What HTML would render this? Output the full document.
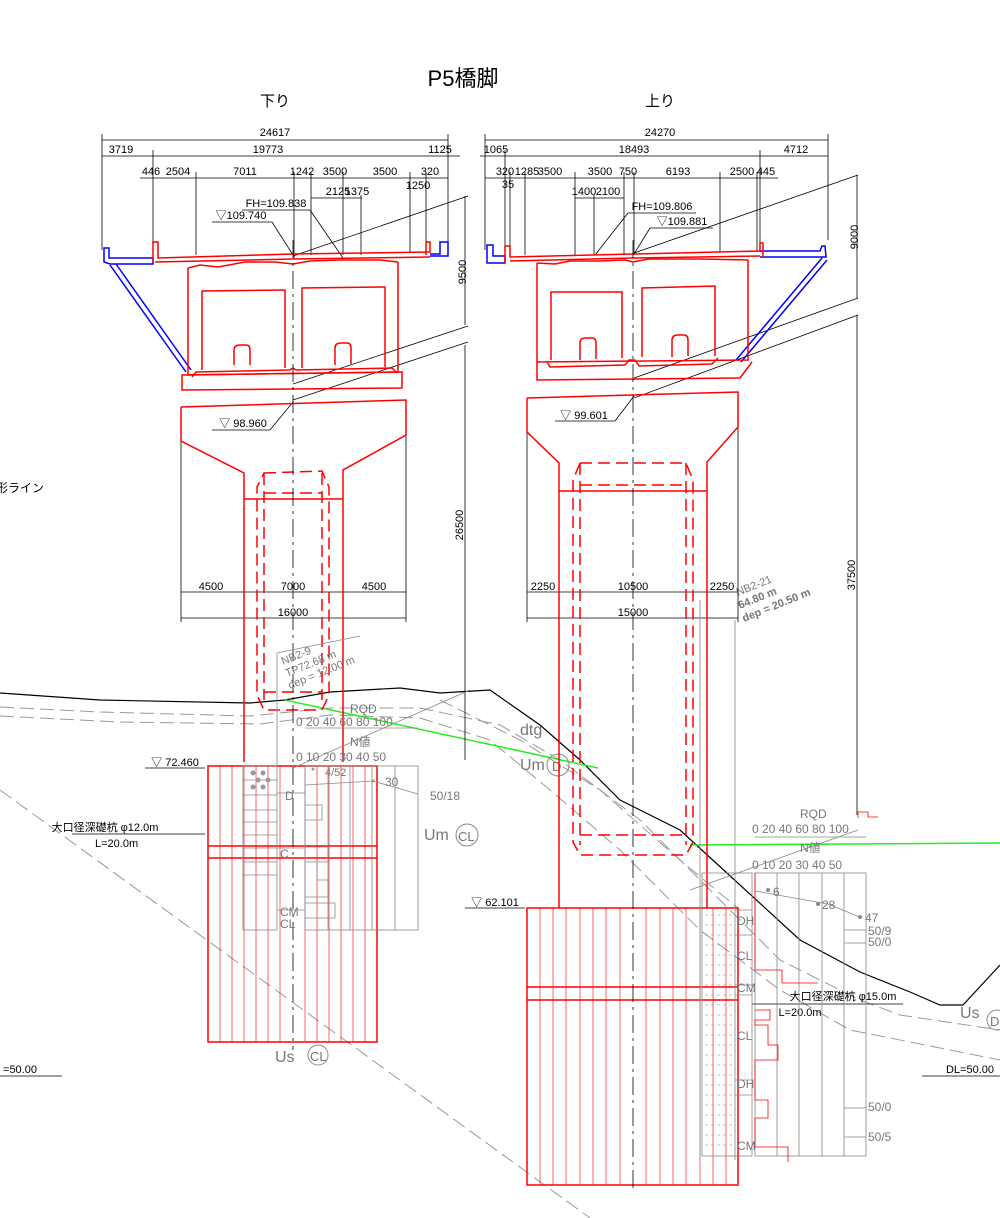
<!DOCTYPE html>
<html><head><meta charset="utf-8"><style>
html,body{margin:0;padding:0;background:#fff}
svg{display:block}
text{font-family:"Liberation Sans","Noto Sans CJK JP",sans-serif;fill:#000}
.g text{fill:#777}
</style></head><body>
<svg width="1000" height="1218" viewBox="0 0 1000 1218" xmlns="http://www.w3.org/2000/svg">
<!-- Title -->
<text x="463" y="86" font-size="22" text-anchor="middle">P5橋脚</text>
<text x="275" y="106" font-size="15" text-anchor="middle">下り</text>
<text x="660" y="106" font-size="15" text-anchor="middle">上り</text>
<text x="-4" y="492" font-size="12">形ライン</text>

<!-- Ground layers (gray dashed) -->
<g fill="none" stroke="#999" stroke-width="1" stroke-dasharray="14,6">
<path d="M0,707 L100,712 L250,716 L330,708 L420,708 L500,725 L560,760 L640,820 L720,900 L780,960 L860,1000 L900,1015 L1000,1030"/>
<path d="M0,716 L120,722 L260,724 L330,715 L420,718 L490,740 L550,790 L620,850 L700,930 L780,990 L850,1030 L1000,1060"/>
<path d="M0,790 L590,1218"/>
<path d="M440,700 L520,740 L600,790 L680,860 L740,910"/>
</g>
<!-- ground line black -->
<path d="M0,693 L100,700 L250,703 L285,700 L330,692 L400,688 L440,693 L490,690 L540,725 L580,760 L620,800 L680,830 L740,885 L800,940 L860,972 L910,992 L940,1005 L963,1005 L1000,965" fill="none" stroke="#000" stroke-width="1.2"/>
<!-- green lines -->
<line x1="285" y1="700" x2="598" y2="768" stroke="#2e2" stroke-width="1.5"/>
<line x1="690" y1="845" x2="1000" y2="843" stroke="#2e2" stroke-width="1.5"/>

<!-- ===== LEFT PIER ===== -->
<g stroke="#000" stroke-width="0.8" fill="none">
<line x1="102" y1="140" x2="448" y2="140"/>
<line x1="102" y1="156" x2="460" y2="156"/>
<line x1="140" y1="178" x2="448" y2="178"/>
<line x1="102" y1="134" x2="102" y2="250"/>
<line x1="448" y1="134" x2="448" y2="250"/>
<line x1="153" y1="150" x2="153" y2="250"/>
<line x1="196" y1="172" x2="196" y2="255"/>
<line x1="294" y1="172" x2="294" y2="258"/>
<line x1="311" y1="172" x2="311" y2="255"/>
<line x1="343" y1="172" x2="343" y2="255"/>
<line x1="361" y1="195" x2="361" y2="255"/>
<line x1="410" y1="172" x2="410" y2="253"/>
<line x1="426" y1="172" x2="426" y2="250"/>
<line x1="311" y1="198" x2="362" y2="198"/>
<line x1="242" y1="210" x2="310" y2="210"/>
<line x1="212" y1="222" x2="272" y2="222"/>
<line x1="272" y1="222" x2="293" y2="255"/>
<line x1="310" y1="210" x2="343" y2="258"/>
<line x1="293" y1="256" x2="468" y2="196"/>
<line x1="293" y1="384" x2="468" y2="326"/>
<line x1="293" y1="400" x2="468" y2="342"/>
<line x1="465" y1="196" x2="465" y2="325"/>
<line x1="465" y1="345" x2="465" y2="760"/>
<line x1="212" y1="430" x2="270" y2="430"/>
<line x1="270" y1="430" x2="293" y2="402"/>
<line x1="181" y1="440" x2="181" y2="622"/>
<line x1="406" y1="435" x2="406" y2="622"/>
<line x1="181" y1="592" x2="406" y2="592"/>
<line x1="181" y1="618" x2="406" y2="618"/>
<line x1="145" y1="768" x2="205" y2="768"/>
<line x1="72" y1="834" x2="205" y2="834"/>
<line x1="0" y1="1076" x2="62" y2="1076"/>
</g>
<g font-size="11" text-anchor="middle">
<text x="275" y="136">24617</text>
<text x="121" y="153">3719</text>
<text x="268" y="153">19773</text>
<text x="440" y="153">1125</text>
<text x="151" y="175">446</text>
<text x="178" y="175">2504</text>
<text x="245" y="175">7011</text>
<text x="302" y="175">1242</text>
<text x="335" y="175">3500</text>
<text x="385" y="175">3500</text>
<text x="430" y="175">320</text>
<text x="418" y="189">1250</text>
<text x="338" y="195">2125</text>
<text x="357" y="195">1375</text>
<text x="276" y="207">FH=109.838</text>
<text x="241" y="219">▽109.740</text>
<text x="243" y="427">▽ 98.960</text>
<text x="211" y="590">4500</text>
<text x="293" y="590">7000</text>
<text x="374" y="590">4500</text>
<text x="293" y="616">16000</text>
<text x="175" y="766">▽ 72.460</text>
<text x="105" y="831">大口径深礎杭 φ12.0m</text>
<text x="95" y="847" text-anchor="start" x="72">L=20.0m</text>
<text x="20" y="1073">=50.00</text>
</g>
<text x="466" y="272" font-size="11" transform="rotate(-90 466 272)" text-anchor="middle">9500</text>
<text x="463" y="525" font-size="11" transform="rotate(-90 463 525)" text-anchor="middle">26500</text>

<!-- deck left -->
<g fill="none" stroke="#00f" stroke-width="1.5">
<path d="M104,248 L109,248 L109,258 L153,258 L153,264 L110,264 L104,262 Z"/>
<path d="M110,265 L186,372 M116,264 L191,370"/>
<path d="M430,254 L440,254 L440,242 L448,242 L448,256 L430,256"/>
</g>
<g fill="none" stroke="#f00" stroke-width="1.5">
<path d="M153,262 L153,242 L158,242 L158,258 L293,254 L430,252 L430,242 L426,242 L426,255"/>
<path d="M155,262 L293,259 L430,257"/>
<path d="M188,268 L188,375 L398,372 L398,262"/>
<path d="M188,268 L200,265 L218,267 L245,262 L275,262 L293,264 L310,261 L340,260 L380,260 L398,262"/>
<path d="M182,375 L182,390 L402,388 L402,372 Z"/>
<path d="M202,370 L202,291 L285,290 L285,368 M302,368 L302,288 L385,287 L385,367"/>
<path d="M234,365 L234,350 Q234,345 240,345 L246,345 Q250,345 250,350 L250,365 M335,365 L335,348 Q335,343 341,343 L347,343 Q351,343 351,348 L351,364"/>
<path d="M192,377 L196,372 L290,370 L293,368 L296,370 L392,368 L397,373"/>
<path d="M181,407 L406,400 L406,435 L343,470 L343,762 M181,407 L181,441 L244,473 L244,762 M244,499 L343,499"/>
<path d="M208,766 L377,766 L377,1042 L208,1042 Z M208,846 L377,846 M208,858 L377,858"/>
</g>
<g stroke="#f00" stroke-width="0.6" fill="none">
<path d="M220,766V1042 M232,766V1042 M244,766V1042 M256,766V1042 M268,766V1042 M280,766V1042 M305,766V1042 M317,766V1042 M329,766V1042 M341,766V1042 M353,766V1042 M365,766V1042"/>
</g>
<g fill="none" stroke="#f00" stroke-width="1.5" stroke-dasharray="12,6">
<path d="M264,473 L322,471 L329,487 L329,695 L322,710 L264,710 L257,695 L257,487 Z"/>
<path d="M264,473 L264,700 M322,473 L322,700 M264,493 L322,493 M264,692 L322,692"/>
</g>
<line x1="293" y1="240" x2="293" y2="1050" stroke="#000" stroke-width="0.8" stroke-dasharray="18,5,3,5"/>

<!-- left borehole -->
<g class="g" stroke="#888" stroke-width="0.8" fill="none">
<path d="M277,653 L277,766 M277,653 L360,636"/>
<rect x="243" y="766" width="34" height="164"/>
<rect x="305" y="766" width="113" height="164"/>
<path d="M328,766V930 M350,766V930 M372,766V930 M395,766V930"/>
<path d="M305,728H418 M305,785L373,781 L418,794"/>
<path d="M305,805H322V820H305 M305,847H328V862H305 M317,862V880H328V897H305 M305,903H335V918H305"/>
<path d="M277,793H305 M277,848H305 M277,910H305"/>
<path d="M243,780H277 M243,795H277 M243,810H277 M243,822H277 M243,835H277 M243,848H277 M243,862H277 M243,875H277"/>
<path d="M293,768 L470,690"/>
</g>
<g class="g" font-size="12">
<text x="350" y="713">RQD</text>
<text x="296" y="726">0 20 40 60 80 100</text>
<text x="350" y="746">N値</text>
<text x="296" y="761">0 10 20 30 40 50</text>
<text x="325" y="776" font-size="11">4/52</text>
<text x="385" y="786">30</text>
<text x="430" y="800">50/18</text>
<text x="285" y="800">D</text>
<text x="280" y="858">C</text>
<text x="280" y="916">CM</text>
<text x="280" y="928">CL</text>
<text x="424" y="840" font-size="16">Um</text>
<circle cx="467" cy="835" r="11" fill="none" stroke="#888"/>
<text x="458" y="841" font-size="13">CL</text>
<text x="275" y="1062" font-size="16">Us</text>
<circle cx="318" cy="1055" r="10" fill="none" stroke="#888"/>
<text x="310" y="1061" font-size="13">CL</text>
<text x="520" y="735" font-size="16">dtg</text>
<text x="520" y="770" font-size="16">Um</text>
<circle cx="558" cy="765" r="11" fill="none" stroke="#888"/>
<text x="552" y="771" font-size="13">D</text>
<text x="283" y="665" font-size="11" transform="rotate(-22 283 665)">NB2-9</text>
<text x="287" y="677" font-size="11" transform="rotate(-22 287 677)">TP72.68 m</text>
<text x="290" y="689" font-size="11" transform="rotate(-22 290 689)">dep = 12.00 m</text>
<text x="738" y="596" font-size="11" transform="rotate(-22 738 596)">NB2-21</text>
<text x="740" y="609" font-size="11" font-weight="bold" transform="rotate(-22 740 609)">64.80 m</text>
<text x="744" y="622" font-size="11" font-weight="bold" transform="rotate(-22 744 622)">dep = 20.50 m</text>
</g>
<g fill="#999">
<circle cx="253" cy="773" r="2.5"/><circle cx="263" cy="773" r="2.5"/><circle cx="258" cy="780" r="2.5"/><circle cx="268" cy="780" r="2.5"/><circle cx="253" cy="787" r="2.5"/><circle cx="263" cy="787" r="2.5"/>
<circle cx="313" cy="769" r="1.5"/><circle cx="373" cy="781" r="1.5"/>
</g>

<!-- ===== RIGHT PIER ===== -->
<g stroke="#000" stroke-width="0.8" fill="none">
<line x1="485" y1="140" x2="828" y2="140"/>
<line x1="480" y1="156" x2="828" y2="156"/>
<line x1="485" y1="178" x2="778" y2="178"/>
<line x1="485" y1="134" x2="485" y2="250"/>
<line x1="828" y1="134" x2="828" y2="240"/>
<line x1="505" y1="150" x2="505" y2="250"/>
<line x1="510" y1="172" x2="510" y2="255"/>
<line x1="525" y1="172" x2="525" y2="255"/>
<line x1="575" y1="172" x2="575" y2="255"/>
<line x1="594" y1="195" x2="594" y2="255"/>
<line x1="624" y1="172" x2="624" y2="255"/>
<line x1="634" y1="172" x2="634" y2="255"/>
<line x1="720" y1="172" x2="720" y2="252"/>
<line x1="757" y1="172" x2="757" y2="252"/>
<line x1="760" y1="150" x2="760" y2="252"/>
<line x1="575" y1="198" x2="624" y2="198"/>
<line x1="628" y1="213" x2="696" y2="213"/>
<line x1="650" y1="228" x2="713" y2="228"/>
<line x1="628" y1="213" x2="595" y2="255"/>
<line x1="650" y1="228" x2="634" y2="254"/>
<line x1="634" y1="253" x2="858" y2="175"/>
<line x1="634" y1="378" x2="858" y2="298"/>
<line x1="634" y1="398" x2="858" y2="315"/>
<line x1="857" y1="175" x2="857" y2="298"/>
<line x1="857" y1="315" x2="857" y2="815"/>
<line x1="555" y1="421" x2="615" y2="421"/>
<line x1="615" y1="421" x2="634" y2="396"/>
<line x1="527" y1="432" x2="527" y2="622"/>
<line x1="738" y1="427" x2="738" y2="622"/>
<line x1="527" y1="592" x2="738" y2="592"/>
<line x1="527" y1="618" x2="738" y2="618"/>
<line x1="465" y1="908" x2="525" y2="908"/>
<line x1="752" y1="1004" x2="903" y2="1004"/>
<line x1="922" y1="1076" x2="1000" y2="1076"/>
</g>
<g font-size="11" text-anchor="middle">
<text x="660" y="136">24270</text>
<text x="496" y="153">1065</text>
<text x="634" y="153">18493</text>
<text x="796" y="153">4712</text>
<text x="505" y="175">320</text>
<text x="527" y="175">1285</text>
<text x="550" y="175">3500</text>
<text x="600" y="175">3500</text>
<text x="628" y="175">750</text>
<text x="678" y="175">6193</text>
<text x="742" y="175">2500</text>
<text x="766" y="175">445</text>
<text x="508" y="188">35</text>
<text x="584" y="195">1400</text>
<text x="608" y="195">2100</text>
<text x="662" y="210">FH=109.806</text>
<text x="682" y="225">▽109.881</text>
<text x="584" y="419">▽ 99.601</text>
<text x="543" y="590">2250</text>
<text x="633" y="590">10500</text>
<text x="722" y="590">2250</text>
<text x="633" y="616">15000</text>
<text x="495" y="906">▽ 62.101</text>
<text x="843" y="1000">大口径深礎杭 φ15.0m</text>
<text x="800" y="1016">L=20.0m</text>
<text x="970" y="1073">DL=50.00</text>
</g>
<text x="858" y="237" font-size="11" transform="rotate(-90 858 237)" text-anchor="middle">9000</text>
<text x="855" y="575" font-size="11" transform="rotate(-90 855 575)" text-anchor="middle">37500</text>

<g fill="none" stroke="#00f" stroke-width="1.5">
<path d="M487,245 L493,245 L493,256 L505,256 L505,263 L487,263 Z"/>
<path d="M760,251 L820,251 L822,246 L825,246 L826,257 L760,257 M822,258 L736,360 M827,260 L741,362"/>
</g>
<g fill="none" stroke="#f00" stroke-width="1.5">
<path d="M505,263 L505,246 L510,246 L510,257 L633,254 L760,251 L760,243 L763,243 L763,257"/>
<path d="M510,261 L633,258 L760,256"/>
<path d="M537,263 L537,362 L748,360 L748,260"/>
<path d="M537,263 L555,264 L570,261 L600,261 L625,260 L633,262 L648,259 L700,259 L748,260"/>
<path d="M537,362 L537,380 L740,378 L752,362"/>
<path d="M551,360 L551,292 L622,292 L622,358 M642,357 L642,288 L715,286 L715,356"/>
<path d="M580,360 L580,343 Q580,338 586,338 L592,338 Q596,338 596,343 L596,359 M672,357 L672,340 Q672,335 678,335 L684,335 Q688,335 688,340 L688,356"/>
<path d="M547,362 L550,367 L625,365 L629,360 L635,360 L639,366 L712,364 L718,358"/>
<path d="M527,398 L738,392 L738,427 L707,462 L707,908 M527,398 L527,432 L559,463 L559,908 M559,491 L707,491"/>
<path d="M527,908 L738,908 L738,1185 L527,1185 Z M527,987 L738,987 M527,1000 L738,1000"/>
</g>
<g stroke="#f00" stroke-width="0.6" fill="none">
<path d="M540,908V1185 M553,908V1185 M566,908V1185 M580,908V1185 M593,908V1185 M606,908V1185 M620,908V1185 M646,908V1185 M660,908V1185 M673,908V1185 M686,908V1185 M700,908V1185 M713,908V1185 M726,908V1185"/>
</g>
<g fill="none" stroke="#f00" stroke-width="1.5" stroke-dasharray="12,6">
<path d="M580,463 L686,463 L693,480 L693,842 L686,855 L580,855 L573,842 L573,480 Z"/>
<path d="M580,463 L580,845 M686,463 L686,845 M580,485 L686,485 M580,835 L686,835"/>
</g>
<line x1="633" y1="240" x2="633" y2="1190" stroke="#000" stroke-width="0.8" stroke-dasharray="18,5,3,5"/>

<!-- right borehole -->
<g stroke="#888" stroke-width="0.8" fill="none">
<path d="M735,620 L735,1160 M700,600 L700,1160"/>
<rect x="702" y="873" width="50" height="283"/>
<rect x="755" y="873" width="111" height="283"/>
<path d="M777,873V1156 M799,873V1156 M822,873V1156 M844,873V1156"/>
<path d="M755,837H866 M755,891 L828,904 L862,918 M844,930H866 M844,943H866 M844,1108H866 M844,1137H866"/>
<path d="M735,910H752 M735,935H752 M735,985H752 M735,995H752 M735,1080H752 M735,1095H752"/>
<path d="M690,890 L858,830"/>
</g>
<g stroke="#888" stroke-width="0.6" stroke-dasharray="3,3">
<path d="M705,915H735 M705,925H735 M705,935H735 M705,945H735 M705,955H735 M705,965H735 M705,975H735 M705,985H735 M705,995H735 M705,1005H735 M705,1015H735 M705,1025H735 M705,1035H735 M705,1045H735 M705,1055H735 M705,1065H735 M705,1075H735 M705,1085H735 M705,1095H735 M705,1105H735 M705,1115H735 M705,1125H735 M705,1135H735 M705,1145H735"/>
</g>
<path d="M755,873 L755,970 L782,970 L782,983 L818,983 L818,983" fill="none" stroke="#f00" stroke-width="0.8"/>
<path d="M755,1010 L770,1010 L770,1020 L755,1020 L755,1025 L768,1025 L768,1045 L778,1045 L778,1060 L755,1060 L755,1100 L768,1100 L768,1118 L755,1118 L755,1147 L788,1147 L788,1162" fill="none" stroke="#f00" stroke-width="0.8"/>
<path d="M858,818 L858,812 L868,812 L868,817 L878,817" fill="none" stroke="#f00" stroke-width="0.8"/>
<g fill="#888"><circle cx="768" cy="890" r="2"/><circle cx="818" cy="904" r="2"/><circle cx="860" cy="917" r="2"/></g>
<g class="g" font-size="12">
<text x="800" y="818">RQD</text>
<text x="752" y="833">0 20 40 60 80 100</text>
<text x="800" y="852">N値</text>
<text x="752" y="869">0 10 20 30 40 50</text>
<text x="773" y="896">6</text>
<text x="822" y="909">28</text>
<text x="865" y="922">47</text>
<text x="868" y="935">50/9</text>
<text x="868" y="946">50/0</text>
<text x="868" y="1111">50/0</text>
<text x="868" y="1141">50/5</text>
<text x="737" y="925">DH</text>
<text x="737" y="960">CL</text>
<text x="737" y="992">CM</text>
<text x="737" y="1040">CL</text>
<text x="737" y="1088">DH</text>
<text x="737" y="1150">CM</text>
<text x="960" y="1018" font-size="16">Us</text>
<circle cx="997" cy="1020" r="10" fill="none" stroke="#888"/>
<text x="990" y="1026" font-size="13">D</text>
</g>
</svg>
</body></html>
